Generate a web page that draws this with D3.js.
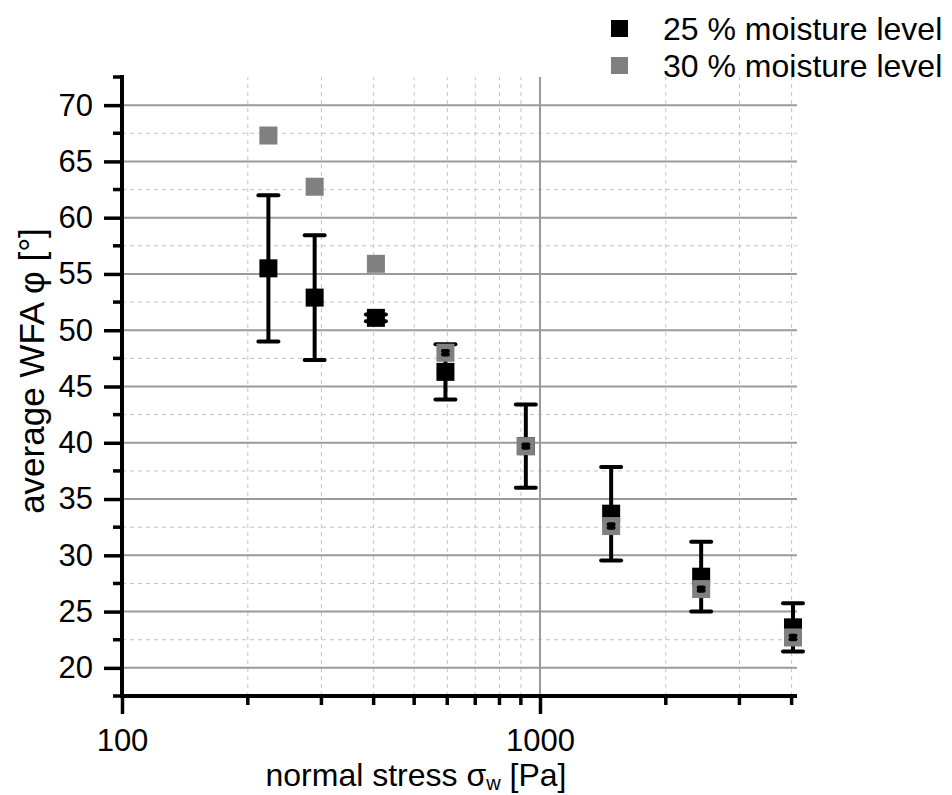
<!DOCTYPE html>
<html>
<head>
<meta charset="utf-8">
<script src="https://cdn.jsdelivr.net/npm/d3@7"></script>
<style>
  html, body { margin: 0; padding: 0; background: #fff; }
  svg { display: block; font-family: "Liberation Sans", Arial, sans-serif; }
</style>
</head>
<body>
<div id="chart"></div>
<script>
// normal stress [Pa] for each measurement
const stress = [224, 289, 405, 594, 925, 1480, 2430, 4030];
// average WFA [deg] and error (+/-) per moisture level
const wfa25 = [55.5, 52.9, 51.1, 46.3, 39.7, 33.7, 28.1, 23.6];
const err25 = [6.5, 5.55, 0.3, 2.45, 3.7, 4.15, 3.1, 2.15];
const wfa30 = [67.3, 62.75, 55.9, 48.0, 39.7, 32.6, 27.0, 22.7];
const err30 = [0, 0, 0, 0.15, 0.15, 0.15, 0.15, 0.15];

const yMajor = [20, 25, 30, 35, 40, 45, 50, 55, 60, 65, 70];
const yMinor = [17.5, 22.5, 27.5, 32.5, 37.5, 42.5, 47.5, 52.5, 57.5, 62.5, 67.5, 72.5];
const xMajor = [100, 1000];
const xMinor = [200, 300, 400, 500, 600, 700, 800, 900, 2000, 3000, 4000];

const series = [
  { label: "25 % moisture level", values: wfa25, errors: err25, color: "#000000", cap: 20 },
  { label: "30 % moisture level", values: wfa30, errors: err30, color: "#808080", cap: 5 }
];

const width = 952, height = 795;
const svg = d3.select("#chart").append("svg")
  .attr("width", width)
  .attr("height", height);

const x = d3.scaleLog().domain([100, 4120]).range([122, 797]);
const y = d3.scaleLinear().domain([17.5, 72.5]).range([696, 77]);

// grid
const grid = svg.append("g");
grid.selectAll(".ymin").data(yMinor.filter(d => d > 17.5 && d < 72.5)).enter().append("line")
  .attr("x1", x(100)).attr("x2", x(4120))
  .attr("y1", d => y(d)).attr("y2", d => y(d))
  .attr("stroke", "#c4c4c4").attr("stroke-width", 1).attr("stroke-dasharray", "4,4");
grid.selectAll(".xmin").data(xMinor).enter().append("line")
  .attr("x1", d => x(d)).attr("x2", d => x(d))
  .attr("y1", y(17.5)).attr("y2", y(72.5))
  .attr("stroke", "#c4c4c4").attr("stroke-width", 1).attr("stroke-dasharray", "4,4");
grid.selectAll(".ymaj").data(yMajor).enter().append("line")
  .attr("x1", x(100)).attr("x2", x(4120))
  .attr("y1", d => y(d)).attr("y2", d => y(d))
  .attr("stroke", "#9a9a9a").attr("stroke-width", 2);
grid.append("line")
  .attr("x1", x(1000)).attr("x2", x(1000))
  .attr("y1", y(17.5)).attr("y2", y(72.5))
  .attr("stroke", "#9a9a9a").attr("stroke-width", 2);

// axes
const yAxis = svg.append("g").attr("transform", `translate(${x(100)},0)`)
  .call(d3.axisLeft(y).tickValues(yMajor).tickSize(18).tickPadding(11));
yAxis.append("g").selectAll("line").data(yMinor).enter().append("line")
  .attr("x1", -9).attr("x2", 0)
  .attr("y1", d => y(d)).attr("y2", d => y(d))
  .attr("stroke", "#000");

const xAxis = svg.append("g").attr("transform", `translate(0,${y(17.5)})`)
  .call(d3.axisBottom(x).tickValues(xMajor).tickFormat(d3.format("d")).tickSize(18).tickPadding(15));
xAxis.append("g").selectAll("line").data(xMinor).enter().append("line")
  .attr("x1", d => x(d)).attr("x2", d => x(d))
  .attr("y1", 0).attr("y2", 9)
  .attr("stroke", "#000");

[yAxis, xAxis].forEach(a => {
  a.select(".domain").remove();
  a.selectAll("line").attr("stroke-width", 3.5);
  a.selectAll("text").attr("fill", "#000")
    .style("font-family", "'Liberation Sans', Arial, sans-serif")
    .style("font-size", "31px");
});
yAxis.append("line").attr("x1", 0).attr("x2", 0).attr("y1", y(72.5) - 2).attr("y2", y(17.5) + 2)
  .attr("stroke", "#000").attr("stroke-width", 4);
xAxis.append("line").attr("x1", x(100) - 2).attr("x2", x(4120)).attr("y1", 0).attr("y2", 0)
  .attr("stroke", "#000").attr("stroke-width", 4);

// axis titles
svg.append("text")
  .attr("x", 416).attr("y", 786)
  .attr("text-anchor", "middle")
  .attr("font-size", 32)
  .html('normal stress &#963;<tspan font-size="20" dy="4">w</tspan><tspan dy="-4"> [Pa]</tspan>');
svg.append("text")
  .attr("transform", "translate(44,371) rotate(-90)")
  .attr("text-anchor", "middle")
  .attr("font-size", 35)
  .text("average WFA \u03c6 [°]");

// error bars + markers
const size = 18;
series.forEach(s => {
  const g = svg.append("g");
  const pts = stress.map((v, i) => ({ x: v, y: s.values[i], e: s.errors[i] }));
  const bars = pts.filter(d => d.e > 0);
  const drawBars = sel => {
    sel.selectAll(".eb").data(bars).enter().append("line")
      .attr("x1", d => x(d.x)).attr("x2", d => x(d.x))
      .attr("y1", d => y(d.y - d.e)).attr("y2", d => y(d.y + d.e))
      .attr("stroke", "#000").attr("stroke-width", 4);
    ["lo", "hi"].forEach(k => {
      sel.selectAll(".cap-" + k).data(bars).enter().append("line")
        .attr("x1", d => x(d.x) - s.cap / 2).attr("x2", d => x(d.x) + s.cap / 2)
        .attr("y1", d => y(k === "lo" ? d.y - d.e : d.y + d.e))
        .attr("y2", d => y(k === "lo" ? d.y - d.e : d.y + d.e))
        .attr("stroke", "#000").attr("stroke-width", 4).attr("stroke-linecap", "round");
    });
  };
  if (s.cap > 10) drawBars(g);
  g.selectAll("rect").data(pts).enter().append("rect")
    .attr("x", d => x(d.x) - size / 2).attr("y", d => y(d.y) - size / 2)
    .attr("width", size).attr("height", size)
    .attr("fill", s.color);
  if (s.cap <= 10) drawBars(g);
});

// legend
const legend = svg.selectAll(".legend").data(series).enter().append("g")
  .attr("transform", (d, i) => `translate(611,${20 + i * 37})`);
legend.append("rect").attr("width", 17).attr("height", 17).attr("fill", d => d.color);
legend.append("text").attr("x", 52).attr("y", 20)
  .attr("font-size", 32).attr("fill", "#000")
  .text(d => d.label);
</script>
</body>
</html>
